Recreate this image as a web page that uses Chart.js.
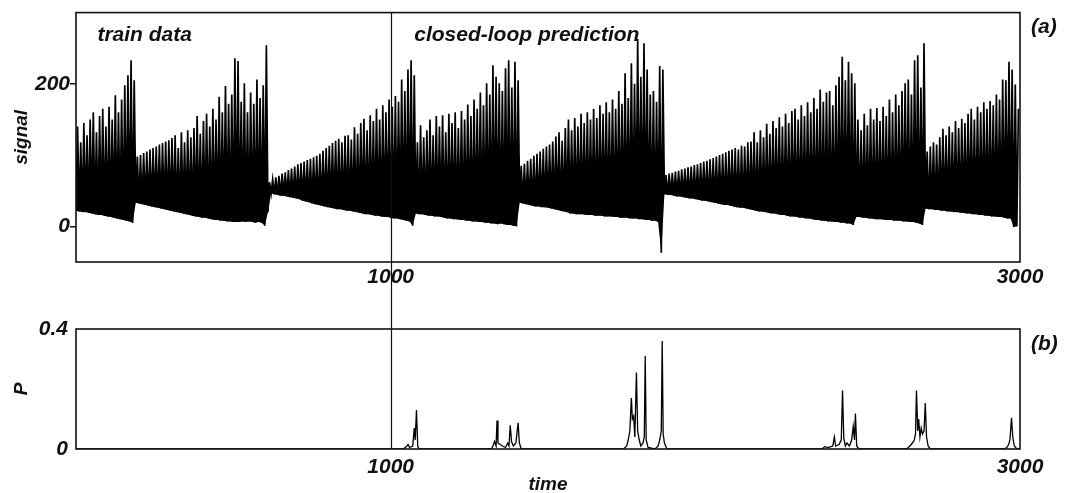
<!DOCTYPE html>
<html>
<head>
<meta charset="utf-8">
<script src="https://cdn.jsdelivr.net/npm/chart.js@4.4.1/dist/chart.umd.min.js"></script>
<style>
  html, body { margin: 0; padding: 0; background: #fff; }
  #wrap { position: relative; width: 1065px; height: 493px; }
  #signalChart { position: absolute; left: 0; top: 0; }
  #probChart { position: absolute; left: 0; top: 290px; }
</style>
</head>
<body>
<div id="wrap">
  <canvas id="signalChart" width="1065" height="290"></canvas>
  <canvas id="probChart" width="1065" height="203"></canvas>
</div>
<script>
/***** DATA *****/
var sampleStep = 10;          // one trough + one peak per 10 time units
var trainEnd = 1000;          // end of train data / start of closed-loop prediction
var timeTicks = [1000, 3000];
var signalTicks = [0, 200];
var probTicks = [0, 0.4];

// signal peaks, t = 5, 15, 25 ... 2995
var signalPeaks = [
  // 0 - 180
  140, 118, 145, 128, 150, 160, 132, 155, 165, 140, 168, 150, 184, 160, 178, 198, 212, 233, 205,
  // 190 - 600
  98, 100, 103, 105, 108, 110, 112, 115, 117, 119, 121, 124,
  128, 110, 132, 118, 135, 125, 138, 155, 130, 148,
  158, 140, 165, 150, 182, 160, 197, 172, 185, 236,
  232, 175, 201, 160, 188, 172, 206, 180, 198, 254,
  // 610 - 1070
  62, 66, 69, 71, 74, 76, 79, 81, 84, 87,
  89, 91, 93, 95, 97, 99, 102, 106, 110, 113,
  117, 120, 123, 118, 127, 128, 122, 139, 130, 145,
  151, 135, 156, 148, 165, 150, 170, 160, 178, 168,
  183, 175, 206, 190, 220, 233, 212,
  // 1080 - 1400
  118, 142, 125, 135, 150, 128, 155, 140, 156, 132,
  158, 145, 160, 138, 162, 150, 171, 155, 178, 165,
  188, 170, 201, 185, 226, 210, 201, 190, 222, 233,
  195, 231, 205,
  // 1410 - 1860
  85, 88, 92, 95, 99, 102, 105, 109, 112, 115,
  119, 126, 132, 120, 138, 150, 135, 152, 140, 158,
  145, 160, 150, 165, 152, 170, 158, 174, 160, 178,
  165, 190, 172, 215, 180, 229, 200, 263, 210, 257,
  220, 185, 190, 175, 225, 220,
  // 1870 - 2470
  72, 74, 75, 77, 78, 80, 81, 83, 84, 86,
  87, 89, 91, 92, 94, 96, 98, 100, 102, 104,
  106, 108, 110, 108, 113, 112, 118, 119, 132, 118,
  135, 125, 144, 130, 148, 138, 153, 140, 158, 145,
  162, 165, 150, 170, 155, 174, 160, 180, 165, 192,
  175, 188, 190, 170, 198, 210, 238, 205, 231, 215,
  201,
  // 2480 - 2690
  150, 135, 158, 142, 165, 150, 166, 148, 168, 155,
  178, 160, 185, 170, 190, 201, 206, 185, 233, 240,
  195, 257,
  // 2700 - 2990
  105, 112, 118, 115, 125, 137, 128, 140, 132, 148,
  138, 151, 145, 158, 165, 150, 168, 160, 174, 165,
  176, 170, 185, 178, 206, 205, 231, 220, 199, 165
];

// signal troughs, t = 0, 10, 20 ... 2990
var signalTroughs = [
  22, 21, 20, 20, 19, 18, 17, 16, 16, 15, 14, 13, 12, 11, 10, 9, 8, 7, 5,
  33, 32, 31, 30, 29, 28, 27, 26, 25, 24, 23, 22, 21, 20, 19, 18, 17, 16, 15, 14,
  13, 12, 12, 11, 10, 9, 9, 8, 8, 7, 7, 6, 6, 6, 7, 6, 7, 6, 5, 6, 5, 1,
  20, 46, 45, 44, 43, 43, 42, 41, 40, 39, 38, 36, 35, 34, 32, 31, 30, 29, 28, 27,
  26, 25, 24, 24, 23, 22, 22, 21, 20, 19, 18, 17, 17, 16, 15, 15, 14, 13, 13, 12,
  11, 11, 10, 9, 8, 7, 1,
  18, 17, 17, 16, 15, 15, 14, 14, 13, 12, 11, 11, 10, 10, 9, 9, 8, 8, 7, 7,
  6, 6, 5, 5, 4, 4, 3, 4, 3, 2, 2, 1, 0,
  33, 32, 31, 30, 29, 28, 28, 27, 27, 26, 25, 24, 23, 22, 21, 20, 18, 18, 17, 17,
  17, 16, 16, 16, 15, 15, 15, 14, 14, 14, 13, 13, 12, 12, 12, 11, 11, 11, 10, 10,
  9, 9, 8, 8, 6, -37,
  45, 44, 44, 43, 42, 42, 41, 40, 39, 39, 38, 37, 36, 36, 35, 34, 33, 32, 31, 30,
  30, 29, 28, 27, 26, 26, 25, 24, 23, 22, 21, 21, 20, 19, 18, 18, 17, 16, 16, 15,
  14, 14, 13, 12, 12, 11, 11, 10, 9, 9, 8, 8, 7, 7, 6, 6, 5, 5, 4, 4, 2,
  13, 13, 12, 12, 11, 11, 10, 10, 10, 9, 9, 9, 8, 8, 8, 7, 7, 6, 6, 5, 4, 2,
  25, 24, 24, 23, 23, 22, 22, 21, 21, 20, 20, 19, 19, 18, 18, 17, 17, 16, 16, 15,
  15, 14, 14, 13, 13, 12, 11, 11, -1, 0
];

// panel (b): P against time
var pTime = [
  0, 1040, 1050, 1055, 1060, 1070, 1075, 1078, 1082, 1086, 1090,
  1320, 1325, 1330, 1335, 1338, 1341, 1348, 1355, 1365, 1372, 1376, 1380, 1384, 1390, 1398, 1405, 1409, 1415,
  1740, 1750, 1755, 1760, 1765, 1768, 1772, 1776, 1781, 1785, 1790, 1795, 1802, 1806, 1809, 1812, 1818,
  1840, 1850, 1855, 1860, 1863, 1866, 1870, 1878,
  2370, 2380, 2390, 2405, 2410, 2414, 2425, 2432, 2436, 2440, 2445, 2450, 2458, 2465, 2470, 2474, 2477, 2481, 2488,
  2640, 2650, 2658, 2664, 2668, 2671, 2675, 2678, 2682, 2686, 2690, 2695, 2699, 2703, 2708, 2715,
  2950, 2958, 2964, 2968, 2973, 2977, 2982, 2990, 3000
];
var pValue = [
  0, 0, 0.008, 0.015, 0.005, 0.01, 0.07, 0.03, 0.13, 0.01, 0,
  0, 0.01, 0.025, 0.01, 0.095, 0.02, 0.015, 0.01, 0.005, 0.02, 0.01, 0.079, 0.025, 0.01, 0.02, 0.087, 0.02, 0,
  0, 0.01, 0.03, 0.06, 0.17, 0.1, 0.11, 0.04, 0.255, 0.06, 0.03, 0.01, 0.02, 0.04, 0.31, 0.03, 0.005,
  0, 0.01, 0.03, 0.06, 0.36, 0.05, 0.02, 0,
  0, 0.008, 0.005, 0.01, 0.04, 0.01, 0.015, 0.03, 0.195, 0.035, 0.01, 0.02, 0.01, 0.03, 0.075, 0.03, 0.118, 0.01, 0,
  0, 0.01, 0.02, 0.03, 0.05, 0.195, 0.06, 0.1, 0.04, 0.07, 0.05, 0.06, 0.153, 0.04, 0.01, 0,
  0, 0.005, 0.015, 0.03, 0.104, 0.04, 0.01, 0, 0
];

/***** POINTS *****/
var signalPoints = [];
var troughPoints = [];
signalPeaks.forEach(function (peak, i) {
  signalPoints.push({ x: i * sampleStep, y: signalTroughs[i] });
  signalPoints.push({ x: i * sampleStep + sampleStep / 2, y: peak });
  troughPoints.push({ x: i * sampleStep, y: signalTroughs[i] });
});
var probPoints = pTime.map(function (t, i) {
  return { x: t, y: pValue[i] };
});

/***** STYLE *****/
var ink = '#111';
var tickFont = { family: 'Liberation Sans', size: 21, weight: 'bold', style: 'italic' };
var titleFont = { family: 'Liberation Sans', size: 19, weight: 'bold', style: 'italic', lineHeight: 1.2 };

function fixedTicks(values) {
  return function (scale) {
    scale.ticks = values.map(function (v) { return { value: v }; });
  };
}

// frame, t=1000 divider and in-panel notes
var panelPlugin = {
  id: 'panel',
  afterDatasetsDraw: function (chart, args, opts) {
    var ctx = chart.ctx;
    var area = chart.chartArea;
    var xs = chart.scales.x;
    var ys = chart.scales.y;
    ctx.save();
    ctx.strokeStyle = ink;
    ctx.lineWidth = 1.6;
    ctx.strokeRect(area.left, area.top, area.right - area.left, area.bottom - area.top);

    var xl = Math.round(xs.getPixelForValue(trainEnd)) + 0.5;
    ctx.lineWidth = 1.2;
    ctx.beginPath();
    ctx.moveTo(xl, opts.lineToCanvasTop ? 0 : area.top);
    ctx.lineTo(xl, opts.lineToCanvasBottom ? chart.height : area.bottom);
    ctx.stroke();

    ctx.fillStyle = ink;
    ctx.textBaseline = 'middle';
    ctx.textAlign = 'left';
    ctx.font = 'italic bold 21px "Liberation Sans"';
    (opts.notes || []).forEach(function (n) {
      ctx.fillText(n.text, xs.getPixelForValue(n.t), ys.getPixelForValue(n.v));
    });
    ctx.fillText(opts.tag, area.right + 11, area.top + opts.tagDy);
    ctx.restore();
  }
};

/***** PANEL (a) *****/
var signalChart = new Chart(document.getElementById('signalChart').getContext('2d'), {
  type: 'line',
  data: {
    datasets: [{
      data: signalPoints,
      borderColor: '#000',
      backgroundColor: '#000',
      borderWidth: 1.7,
      pointRadius: 0,
      tension: 0,
      fill: '+1'
    }, {
      // lower edge of the oscillation, only used as fill boundary
      data: troughPoints,
      borderColor: '#000',
      borderWidth: 0,
      pointRadius: 0,
      tension: 0,
      fill: false
    }]
  },
  options: {
    responsive: false,
    animation: false,
    layout: { padding: { top: 9, right: 45, left: 0, bottom: 0 } },
    plugins: {
      legend: { display: false },
      tooltip: { enabled: false },
      panel: {
        tag: '(a)',
        tagDy: 15,
        lineToCanvasBottom: true,
        notes: [
          { text: 'train data', t: 68, v: 268 },
          { text: 'closed-loop prediction', t: 1075, v: 268 }
        ]
      }
    },
    scales: {
      x: {
        type: 'linear',
        min: 0,
        max: 3000,
        afterBuildTicks: fixedTicks(timeTicks),
        afterFit: function (s) { s.height = 28; },
        grid: { display: false, drawTicks: false },
        border: { display: false },
        ticks: {
          font: tickFont, color: ink, padding: 3, maxRotation: 0, autoSkip: false,
          callback: function (v) { return String(v); }
        }
      },
      y: {
        min: -50,
        max: 300,
        afterBuildTicks: fixedTicks(signalTicks),
        afterFit: function (s) { s.width = 76; },
        grid: { drawOnChartArea: false, drawTicks: true, tickLength: 6, color: ink, lineWidth: 1.5 },
        border: { display: false },
        ticks: { font: tickFont, color: ink, padding: 0 },
        title: { display: true, text: 'signal', font: titleFont, color: ink, padding: { top: 10, bottom: 0 } }
      }
    }
  },
  plugins: [panelPlugin]
});

/***** PANEL (b) *****/
var probChart = new Chart(document.getElementById('probChart').getContext('2d'), {
  type: 'line',
  data: {
    datasets: [{
      data: probPoints,
      borderColor: '#000',
      borderWidth: 1.3,
      pointRadius: 0,
      tension: 0,
      fill: false
    }]
  },
  options: {
    responsive: false,
    animation: false,
    layout: { padding: { top: 39, right: 45, left: 0, bottom: 0 } },
    plugins: {
      legend: { display: false },
      tooltip: { enabled: false },
      panel: {
        tag: '(b)',
        tagDy: 15,
        lineToCanvasTop: true
      }
    },
    scales: {
      x: {
        type: 'linear',
        min: 0,
        max: 3000,
        afterBuildTicks: fixedTicks(timeTicks),
        afterFit: function (s) { s.height = 44; },
        grid: { display: false, drawTicks: false },
        border: { display: false },
        ticks: {
          font: tickFont, color: ink, padding: 6, maxRotation: 0, autoSkip: false,
          callback: function (v) { return String(v); }
        },
        title: { display: true, text: 'time', font: titleFont, color: ink, padding: { top: 0, bottom: -3 } }
      },
      y: {
        min: 0,
        max: 0.4,
        afterBuildTicks: fixedTicks(probTicks),
        afterFit: function (s) { s.width = 76; },
        grid: { drawOnChartArea: false, drawTicks: false },
        border: { display: false },
        ticks: { font: tickFont, color: ink, padding: 8 },
        title: { display: true, text: 'P', font: titleFont, color: ink, padding: { top: 10, bottom: 0 } }
      }
    }
  },
  plugins: [panelPlugin]
});
</script>
</body>
</html>
